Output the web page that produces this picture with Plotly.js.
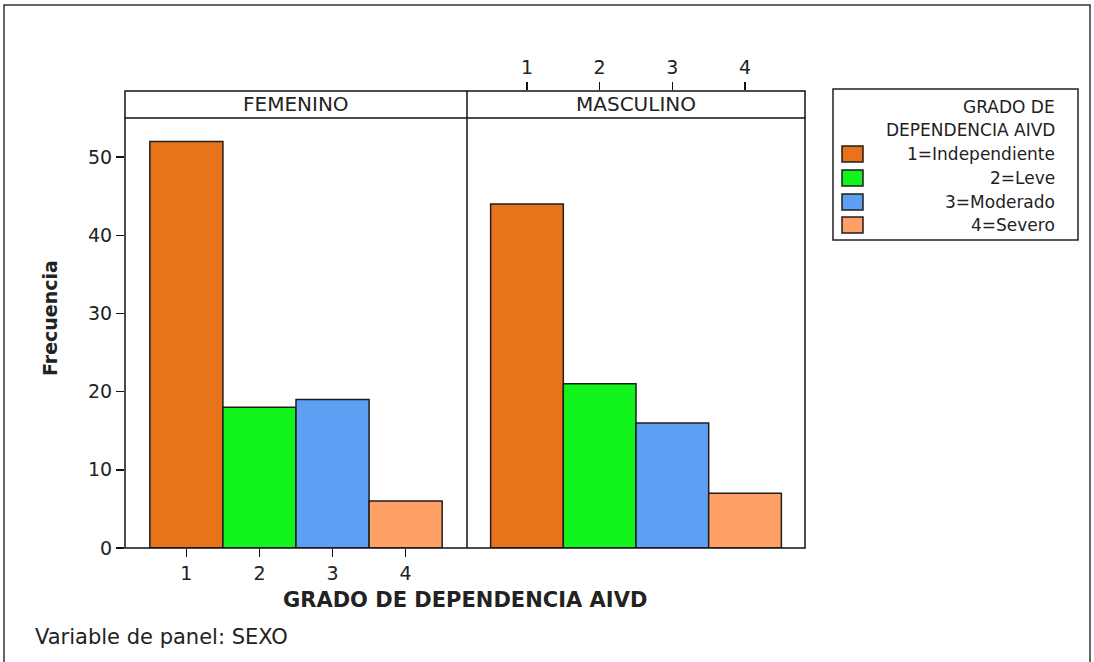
<!DOCTYPE html>
<html>
<head>
<meta charset="utf-8">
<script src="https://cdn.plot.ly/plotly-3.0.1.min.js"></script>
<style>html,body{margin:0;padding:0;background:#fff;}#chart{width:1094px;height:662px;}</style>
</head>
<body>
<div id="chart"></div>
<script>
// ---- data ----
const categories = [1, 2, 3, 4];
const panels = ["FEMENINO", "MASCULINO"];
const femenino = [52, 18, 19, 6];
const masculino = [44, 21, 16, 7];
const legendTitle = ["GRADO DE", "DEPENDENCIA AIVD"];
const legendLabels = ["1=Independiente", "2=Leve", "3=Moderado", "4=Severo"];
const yTicks = [0, 10, 20, 30, 40, 50];
const xTitle = "GRADO DE DEPENDENCIA AIVD";
const yTitle = "Frecuencia";
const footer = "Variable de panel: SEXO";

// ---- styles ----
const colors = ["#E8731B", "#12F51C", "#5D9FF3", "#FFA066"];
const edge = "#1E1E1E";
const FONT = "DejaVu Sans";
const W = 1094, H = 662;
const L = 125, R = 805, T = 91, B = 548;
const px = x => (x - L) / (R - L);
const py = y => (B - y) / (B - T);
const yTop = 55 * (B - T) / (B - 118);   // data value at pixel 91 (plot top incl. strip)
const split = px(467);

const traces = [
  {type: "bar", x: categories, y: femenino, xaxis: "x", yaxis: "y", width: 1,
   marker: {color: colors, line: {color: edge, width: 1.5}}, showlegend: false, hoverinfo: "x+y"},
  {type: "bar", x: categories, y: masculino, xaxis: "x2", yaxis: "y", width: 1,
   marker: {color: colors, line: {color: edge, width: 1.5}}, showlegend: false, hoverinfo: "x+y"}
];

const shapes = [
  // outer frame
  {type: "rect", xref: "paper", yref: "paper", x0: px(4), x1: px(1090), y0: py(720), y1: py(5),
   line: {color: "#333", width: 1.5}, fillcolor: "rgba(0,0,0,0)"},
  // panel box
  {type: "rect", xref: "paper", yref: "paper", x0: 0, x1: 1, y0: 0, y1: 1,
   line: {color: "#111", width: 1.5}, fillcolor: "rgba(0,0,0,0)"},
  {type: "line", xref: "paper", yref: "paper", x0: split, x1: split, y0: 0, y1: 1,
   line: {color: "#111", width: 1.5}},
  {type: "line", xref: "paper", yref: "y", x0: 0, x1: 1, y0: 55, y1: 55,
   line: {color: "#111", width: 1.5}},
  // legend box
  {type: "rect", xref: "paper", yref: "paper", x0: px(833), x1: px(1078), y0: py(240), y1: py(89),
   line: {color: "#222", width: 1.5}, fillcolor: "#fff"}
];

const annotations = [
  {xref: "paper", yref: "paper", x: split / 2, y: py(104), text: panels[0], showarrow: false,
   font: {family: FONT, size: 20, color: "#222"}, xanchor: "center", yanchor: "middle"},
  {xref: "paper", yref: "paper", x: (split + 1) / 2, y: py(104), text: panels[1], showarrow: false,
   font: {family: FONT, size: 20, color: "#222"}, xanchor: "center", yanchor: "middle"},
  {xref: "paper", yref: "paper", x: px(465), y: py(600), text: "<b>" + xTitle + "</b>", showarrow: false,
   font: {family: FONT, size: 21, color: "#222"}, xanchor: "center", yanchor: "middle"},
  {xref: "paper", yref: "paper", x: px(50), y: py(318), text: "<b>" + yTitle + "</b>", showarrow: false,
   textangle: -90, font: {family: FONT, size: 19, color: "#222"}, xanchor: "center", yanchor: "middle"},
  {xref: "paper", yref: "paper", x: px(33), y: py(637), text: footer, showarrow: false,
   font: {family: FONT, size: 21, color: "#222"}, xanchor: "left", yanchor: "middle"}
];

const legendRows = [107, 130];
legendTitle.forEach((t, i) => annotations.push({
  xref: "paper", yref: "paper", x: px(1057), y: py(legendRows[i]), text: t, showarrow: false,
  font: {family: FONT, size: 17, color: "#222"}, xanchor: "right", yanchor: "middle"}));
const itemRows = [154, 178, 202, 225];
legendLabels.forEach((t, i) => {
  annotations.push({xref: "paper", yref: "paper", x: px(1057), y: py(itemRows[i]), text: t, showarrow: false,
    font: {family: FONT, size: 17, color: "#222"}, xanchor: "right", yanchor: "middle"});
  shapes.push({type: "rect", xref: "paper", yref: "paper", x0: px(842), x1: px(863),
    y0: py(itemRows[i] + 8), y1: py(itemRows[i] - 8), fillcolor: colors[i],
    line: {color: edge, width: 1.5}});
});

const layout = {
  width: W, height: H,
  margin: {l: L, r: W - R, t: T, b: H - B, pad: 0},
  paper_bgcolor: "#fff", plot_bgcolor: "rgba(0,0,0,0)",
  font: {family: FONT, size: 19, color: "#222"},
  bargap: 0,
  xaxis: {domain: [0, split], range: [0.16, 4.84], tickvals: categories, ticktext: categories.map(String),
    ticks: "outside", ticklen: 8, tickwidth: 1.5, tickcolor: "#111", showline: false, showgrid: false,
    zeroline: false, anchor: "y", tickfont: {family: FONT, size: 19, color: "#222"}},
  xaxis2: {domain: [split, 1], range: [0.175, 4.825], tickvals: categories, ticktext: categories.map(String),
    side: "top", ticks: "outside", ticklen: 8, tickwidth: 1.5, tickcolor: "#111", showline: false,
    showgrid: false, zeroline: false, anchor: "y", tickfont: {family: FONT, size: 19, color: "#222"}},
  yaxis: {range: [0, yTop], tickvals: yTicks, ticks: "outside", ticklen: 8, tickwidth: 1.5, tickcolor: "#111",
    showline: false, showgrid: false, zeroline: false, tickfont: {family: FONT, size: 19, color: "#222"}},
  shapes: shapes,
  annotations: annotations,
  showlegend: false
};

Plotly.newPlot("chart", traces, layout, {displayModeBar: false, staticPlot: true});
</script>
</body>
</html>
